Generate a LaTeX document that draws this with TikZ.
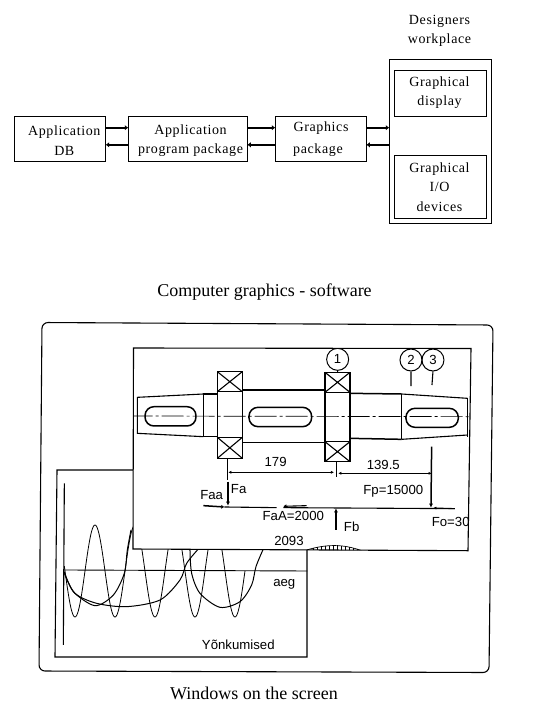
\documentclass[tikz,border=0pt]{standalone}
\usepackage{fontspec}
\setmainfont[LetterSpace=4.5]{Liberation Serif}
\newfontfamily\capfont{Liberation Serif}
\newfontfamily\skfont{Liberation Sans}
\usetikzlibrary{arrows.meta}
\tikzset{
  boxn/.style={draw,line width=0.8pt,inner sep=0,outer sep=0},
  txt/.style={font=\fontsize{14}{19.5}\selectfont,align=center,inner sep=0},
  captxt/.style={font=\capfont\fontsize{18}{20}\selectfont,inner sep=0},
  link/.style={line width=1.9pt,-{Latex[length=3.5pt,width=5.5pt]}},
  sk/.style={font=\skfont\fontsize{13.2}{14}\selectfont,inner sep=0},
  thin ink/.style={line width=0.7pt},
  ink/.style={line width=1.1pt},
  heavy/.style={line width=1.5pt},
  balloon/.style={draw,circle,line width=1pt,minimum size=22pt,inner sep=0,font=\skfont\fontsize{13.2}{14}\selectfont},
  z2/.style={shift={(130,340)},x=0.3333pt,y=-0.3333pt},
  z3/.style={shift={(30,460)},x=0.3333pt,y=-0.3333pt},
  win/.style={draw,fill=white,line width=1.1pt}
}
\begin{document}
\begin{tikzpicture}[x=1pt,y=-1pt]
\useasboundingbox (0,0) rectangle (540,720);
\fill[white] (0,0) rectangle (540,720);
% block diagram
\node[boxn,minimum width=91.4pt,minimum height=44.8pt] (db) at (60,138.7) {};
\node[boxn,minimum width=119pt,minimum height=44.8pt] (prog) at (187.8,138.7) {};
\node[boxn,minimum width=91pt,minimum height=44.8pt] (gfx) at (320.8,138.7) {};
\node[boxn,minimum width=102.4pt,minimum height=164pt] (work) at (440.5,141.3) {};
\node[boxn,minimum width=91.7pt,minimum height=46pt] (disp) at (440.2,93.3) {};
\node[boxn,minimum width=91.7pt,minimum height=63pt] (io) at (440.2,186.8) {};
\node[txt] (dbt) at (64.3,140.5) {Application\\DB};
\node[txt] (progt) at (190.5,140.5) {Application\\program package};
\node[txt] (gfxt1) at (321,128) {Graphics};
\node[txt] (gfxt2) at (318,150) {package};
\node[txt] (workt) at (439.5,31) {Designers\\workplace};
\node[txt] (dispt) at (439.5,92.5) {Graphical\\display};
\node[txt] (iot) at (439.5,187) {Graphical\\I/O\\devices};
\foreach \a/\b in {db/prog,prog/gfx,gfx/work}{
  \draw[link] (\a.east |- 0,127.7) -- (\b.west |- 0,127.7);
  \draw[link] (\b.west |- 0,144.8) -- (\a.east |- 0,144.8);
}
\node[captxt] (capa) at (264.5,292) {Computer graphics - software};
\node[captxt] (capb) at (254,693) {Windows on the screen};
% screen
\draw[line width=1.1pt,rounded corners=6pt] (42,322.5) -- (493,325) -- (489,672.5) -- (39,671) -- cycle;
% vibration window
\draw[win] (57,470) -- (307,470) -- (307,657) -- (55,657) -- cycle;
\begin{scope}[z3]
  \draw[ink] (103,70) -- (100,555);
  \draw[line width=0.9pt] (103,330) -- (832,333);
  \draw[line width=0.8pt] plot[domain=103:645,samples=220] (\x,{333-138*cos(3*(\x-195))});
  \draw[line width=1pt] plot[smooth] coordinates {(103,335) (130,395) (195,437) (250,405) (283,340) (292,270) (303,210)};
  \draw[line width=1pt] plot[smooth] coordinates {(103,340) (135,400) (200,430) (290,440) (390,420) (450,360) (470,310) (505,267)};
  \draw[line width=1pt] plot[smooth] coordinates {(480,270) (485,340) (510,400) (570,442) (630,425) (665,375) (678,320) (700,267)};
  \node[sk] (aeg) at (763,372) {aeg};
  \node[sk] (vonk) at (625,553) {Yõnkumised};
\end{scope}
% shaft window
\draw[win] (133.5,348) -- (471,348.5) -- (468,550.7) -- (133,549) -- cycle;
\begin{scope}
\clip (133.5,348) -- (471,348.5) -- (468,550.7) -- (133,549) -- cycle;
\begin{scope}[z2]
  \draw[thin ink,dash pattern=on 22pt off 3pt on 3pt off 3pt] (2,228) -- (1030,230);
  % left end
  \draw[ink] (220,162) -- (22,172) -- (22,280) -- (220,290);
  \draw[heavy] (220,162) -- (220,290);
  \draw[heavy] (220,162) -- (262,162) (220,290) -- (262,290);
  % bearing left
  \draw[heavy] (262,95) rectangle (337,355);
  \draw[heavy] (262,155) -- (337,155) (262,292) -- (337,292);
  \draw[ink] (262,95) -- (337,155) (337,95) -- (262,155) (262,292) -- (337,355) (337,292) -- (262,355);
  \draw[ink] (337,150) -- (585,150) (337,308) -- (585,308);
  % bearing right
  \draw[heavy] (585,97) rectangle (660,365);
  \draw[heavy] (585,157) -- (660,157) (585,305) -- (660,305);
  \draw[ink] (585,97) -- (660,157) (660,97) -- (585,157) (585,305) -- (660,365) (660,305) -- (585,365);
  \draw[heavy] (660,160) -- (815,162) (660,295) -- (815,298);
  \draw[heavy] (815,162) -- (815,298);
  \draw[ink] (815,162) -- (1013,175) (815,298) -- (1013,285);
  \draw[heavy] (1013,175) -- (1013,290);
  % key slots
  \draw[heavy,rounded corners=9pt] (45,200) rectangle (198,258);
  \draw[heavy,rounded corners=9pt] (357,202) rectangle (545,260);
  \draw[heavy,rounded corners=9pt] (828,205) rectangle (985,262);
  % balloons
  \node[balloon] (c1) at (623,58) {1};
  \node[balloon] (c2) at (843,60) {2};
  \node[balloon] (c3) at (909,60) {3};
  \coordinate (l1) at (623,97);
  \coordinate (l2) at (843,138);
  \coordinate (l3) at (906,135);
  \draw[ink] (c1) -- (l1) (c2.south) -- (l2) (c3.south) -- (l3);
  % dimensions
  \draw[ink] (292,355) -- (292,420);
  \draw[line width=0.8pt,{Latex[length=3pt,width=3pt]}-{Latex[length=3pt,width=3pt]}] (295,397) -- (612,397);
  \draw[line width=0.8pt,{Latex[length=3pt,width=3pt]}-{Latex[length=3pt,width=3pt]}] (625,400) -- (905,400);
  \draw[thin ink] (620,365) -- (620,410);
  % forces
  \draw[heavy,-{Latex[length=4pt,width=4pt]}] (294,425) -- (294,497);
  \draw[heavy,-{Latex[length=4pt,width=4pt]}] (905,320) -- (903,503);
  \draw[heavy,-{Latex[length=3pt,width=4pt]}] (220,497) -- (283,501);
  \draw[ink] (283,501) -- (440,503) (460,503) -- (975,506);
  \draw[ink,-{Latex[length=3pt,width=4pt]}] (530,497) -- (460,499);
  \draw[heavy,-{Latex[length=4pt,width=4pt]}] (618,570) -- (618,505);
  \draw[ink,-{Latex[length=3pt,width=3pt]}] (975,506) -- (910,504);
  % moment diagram
  \draw[thin ink] (530,630) .. controls (590,612) and (640,612) .. (695,632);
  \foreach \hx/\hy in {550/624,562/621,574/619,586/618,598/617,610/616,622/616,634/617,646/619,658/622,670/625,682/628}
    \draw[line width=0.9pt] (\hx,\hy) -- (\hx,632);
  \node[sk] (t179) at (437,365) {179};
  \node[sk] (t139) at (760,375) {139.5};
  \node[sk] (tfa) at (326,447) {Fa};
  \node[sk] (tfaa) at (245,465) {Faa};
  \node[sk] (tfp) at (790,455) {Fp=15000};
  \node[sk] (tfaA) at (490,528) {FaA=2000};
  \node[sk] (tfb) at (665,560) {Fb};
  \node[sk,anchor=west] (tfo) at (905,545) {Fo=30};
  \node[sk] (t2093) at (477,603) {2093};
\end{scope}
\end{scope}
\end{tikzpicture}
\end{document}
